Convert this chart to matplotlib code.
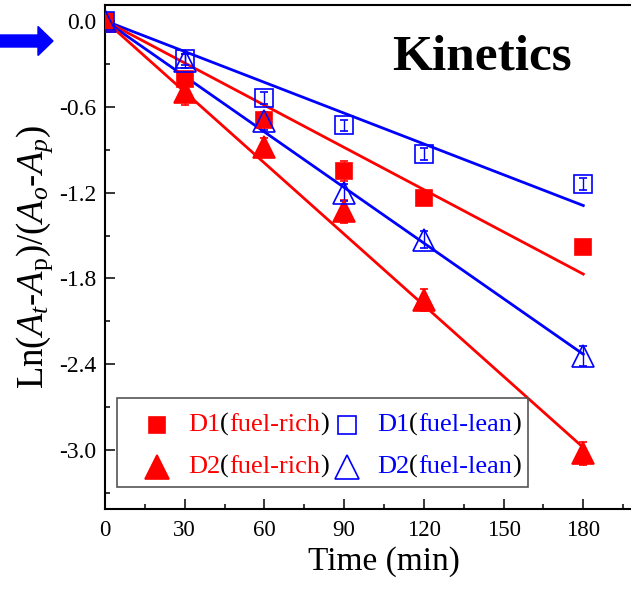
import numpy as np
import matplotlib.pyplot as plt
from matplotlib.patches import FancyArrow, Rectangle
from matplotlib.transforms import IdentityTransform

plt.rcParams['font.family'] = ['Liberation Serif', 'DejaVu Serif']
plt.rcParams['mathtext.fontset'] = 'custom'
plt.rcParams['mathtext.rm'] = 'Liberation Serif'
plt.rcParams['mathtext.it'] = 'Liberation Serif:italic'

# sampling times (min) and ln((At-Ap)/(A0-Ap)) for each sample
time = [0, 30, 60, 90, 120, 180]
d1_rich = [0, -0.41, -0.69, -1.05, -1.24, -1.58]
d2_rich = [0, -0.50, -0.88, -1.33, -1.95, -3.02]
d1_lean = [0, -0.27, -0.54, -0.73, -0.93, -1.14]
d2_lean = [0, -0.28, -0.70, -1.20, -1.53, -2.34]

d1_rich_err = [0, 0.04, 0.05, 0.07, 0.04, 0.03]
d2_rich_err = [0, 0.09, 0.06, 0.08, 0.08, 0.08]
d1_lean_err = [0, 0.04, 0.04, 0.04, 0.04, 0.04]
d2_lean_err = [0, 0.05, 0.06, 0.06, 0.06, 0.07]

# first-order rate constants (slopes of the fitted lines, 1/min)
k_d1_rich = -0.00983
k_d2_rich = -0.01656
k_d1_lean = -0.00717
k_d2_lean = -0.01294

RED = '#ff0000'
BLUE = '#0000ff'

fig = plt.figure(figsize=(6.31, 5.96), dpi=100)
ax = fig.add_axes([105 / 631, 87 / 596, 558 / 631, 504 / 596])

# fitted lines through the origin
t_fit = np.array([0, 180])
for k, c in [(k_d1_lean, BLUE), (k_d1_rich, RED), (k_d2_lean, BLUE), (k_d2_rich, RED)]:
    ax.plot(t_fit, k * t_fit, color=c, lw=2.0, zorder=2)

series = [
    (d1_rich, d1_rich_err, 's', RED, True, 12),
    (d2_rich, d2_rich_err, '^', RED, True, 16),
    (d1_lean, d1_lean_err, 's', BLUE, False, 13),
    (d2_lean, d2_lean_err, '^', BLUE, False, 16),
]
for y, err, m, c, filled, ms in series:
    ax.errorbar(time, y, yerr=err, fmt=m, ms=ms, color=c, ecolor=c,
                mfc=c if filled else 'none', mec=c, mew=1.2,
                elinewidth=1, capsize=3, capthick=1, zorder=3)

ax.set_xlim(0, 210)
ax.set_ylim(-3.41, 0.11)
ax.set_xticks([0, 30, 60, 90, 120, 150, 180])
ax.set_xticks(np.arange(15, 210, 30), minor=True)
ax.set_yticks([0.0, -0.6, -1.2, -1.8, -2.4, -3.0])
ax.set_yticks(np.arange(-0.3, -3.4, -0.6), minor=True)
ax.set_yticklabels(['0.0', '-0.6', '-1.2', '-1.8', '-2.4', '-3.0'])
ax.tick_params(which='both', direction='in', width=1.1, labelsize=16.5)
ax.tick_params(which='major', length=7)
ax.tick_params(which='minor', length=3.5)
ax.tick_params(axis='x', pad=8)
ax.tick_params(axis='y', pad=6, labelsize=17)
for s in ax.spines.values():
    s.set_linewidth(1.5)

ax.set_xlabel('Time (min)', fontsize=24, labelpad=4)
ax.set_ylabel(r'Ln($A_t$-$A_\mathrm{p}$)/($A_o$-$A_p$)', fontsize=26.5, labelpad=3)

fig.text(392 / 631, 1 - 70 / 596, 'Kinetics', fontsize=37, fontweight='bold',
         ha='left', va='baseline')

# blue arrow pointing at the origin
arrow = FancyArrow(0, 555, 53, 0, width=12, head_width=29, head_length=15,
                   length_includes_head=True, color=BLUE, transform=IdentityTransform())
fig.add_artist(arrow)

# legend box with two-colour labels
fig.add_artist(Rectangle((117 / 631, 1 - 487 / 596), 411 / 631, 89 / 596,
                         transform=fig.transFigure, fill=False, ec='#555555', lw=1.2))


def chained(x, y, pieces, size=19):
    prev = fig.text(x, y, pieces[0][0], color=pieces[0][1], fontsize=size,
                    ha='left', va='center')
    for s, c in pieces[1:]:
        prev = ax.annotate(s, xy=(1, 0), xycoords=prev, ha='left', va='bottom',
                           color=c, fontsize=size, annotation_clip=False)


rows = [1 - 425 / 596, 1 - 467 / 596]
cols = [(157 / 631, 188 / 631), (347 / 631, 377 / 631)]
legend_items = [
    (0, 0, 's', RED, True, 12, 'D1', 'fuel-rich'),
    (1, 0, '^', RED, True, 17, 'D2', 'fuel-rich'),
    (0, 1, 's', BLUE, False, 13, 'D1', 'fuel-lean'),
    (1, 1, '^', BLUE, False, 17, 'D2', 'fuel-lean'),
]
for r, cidx, m, c, filled, ms, name, cond in legend_items:
    mx, tx = cols[cidx]
    fig.add_artist(plt.Line2D([mx], [rows[r]], marker=m, ms=ms, color=c,
                              mfc=c if filled else 'none', mec=c, mew=1.2,
                              transform=fig.transFigure))
    chained(tx, rows[r], [(name, c), ('(', 'black'), (cond, c), (')', 'black')])

fig.savefig('out.png', dpi=100)
